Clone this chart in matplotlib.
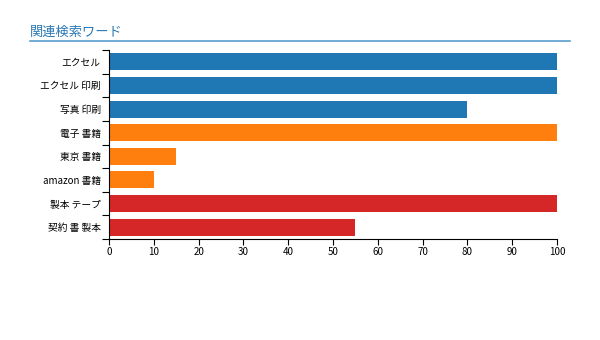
import numpy as np
import matplotlib.pyplot as plt
from matplotlib.lines import Line2D

plt.rcParams['font.family'] = ['Noto Sans CJK JP', 'DejaVu Sans']

# related search words and their relative scores
words = ['エクセル', 'エクセル 印刷', '写真 印刷', '電子 書籍', '東京 書籍',
         'amazon 書籍', '製本 テープ', '契約 書 製本']
scores = [100, 100, 80, 100, 15, 10, 100, 55]
groups = [0, 0, 0, 1, 1, 1, 2, 2]
palette = ['#1f77b4', '#ff7f0e', '#d62728']

fig = plt.figure(figsize=(6, 3.4), dpi=100)
ax = fig.add_axes([109/600, 1 - 239/340, 448/600, 189/340])

y = np.arange(len(words))
ax.barh(y, scores, height=0.72, color=[palette[g] for g in groups])
ax.set_ylim(len(words) - 0.5, -0.5)
ax.set_xlim(0, 100)
ax.set_xticks(range(0, 101, 10))
ax.set_yticks(y)
ax.set_yticklabels(words, fontsize=7)
ax.set_yticks(np.arange(-0.5, len(words), 1), minor=True)
ax.tick_params(axis='y', which='major', length=0, pad=6)
ax.tick_params(axis='y', which='minor', length=5, width=0.8)
ax.tick_params(axis='x', labelsize=7, length=4, width=0.8, pad=2)
for s in ['top', 'right']:
    ax.spines[s].set_visible(False)
for s in ['left', 'bottom']:
    ax.spines[s].set_linewidth(0.8)

# heading with underline
fig.text(30/600, 1 - 32/340, '関連検索ワード', fontsize=9.5, color='#2a78b5',
         va='center', ha='left')
fig.add_artist(Line2D([30/600, 570/600], [1 - 41/340, 1 - 41/340],
                      color='#5a9fd0', lw=1.2))

fig.savefig('out.png', dpi=100)
